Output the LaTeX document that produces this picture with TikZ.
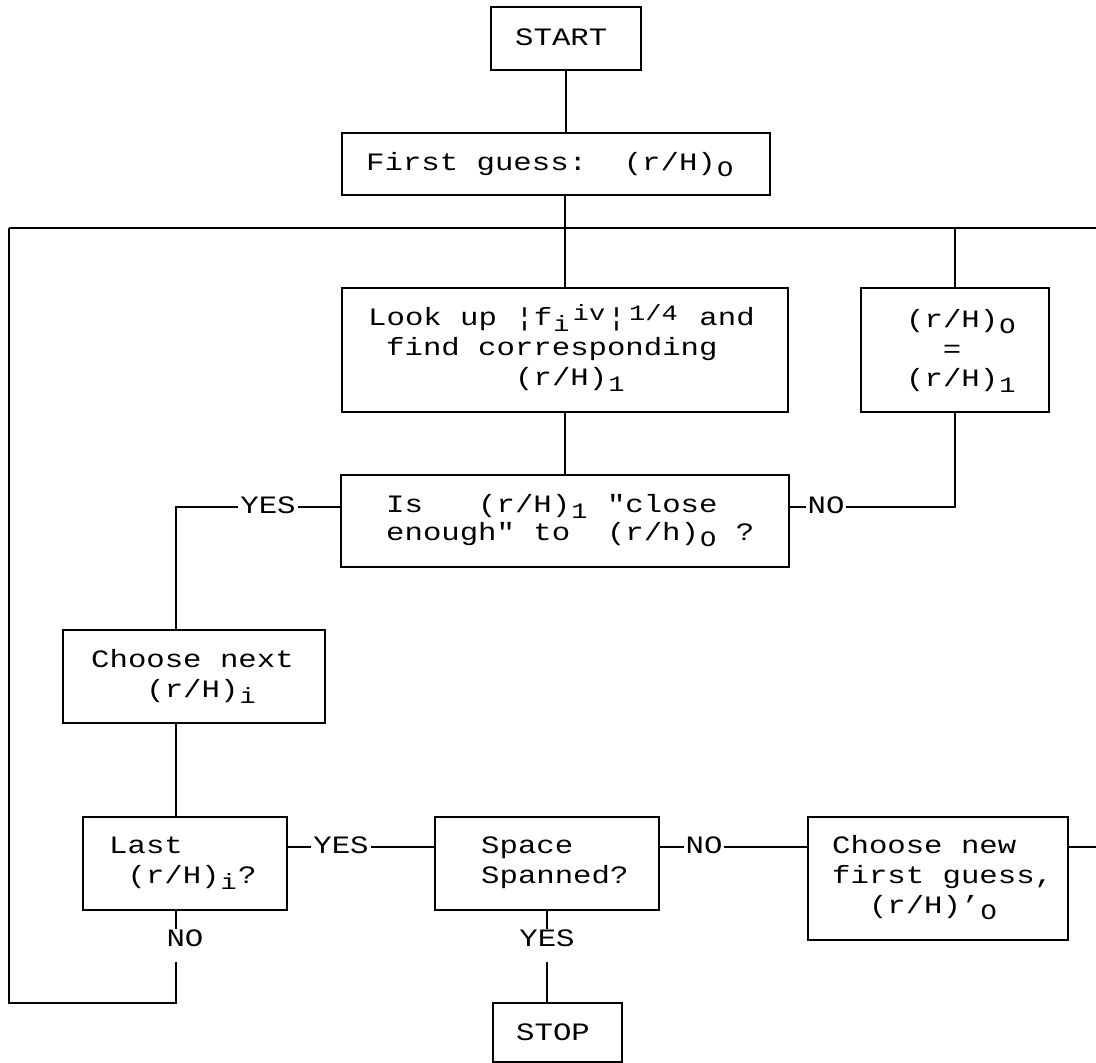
\documentclass[tikz,border=0pt]{standalone}
\usepackage{fontspec}
\newfontfamily\mfont[FakeStretch=1.227,Ligatures=TeXOff]{Liberation Mono}
\newlength\cellw
\setlength\cellw{18.4pt}
\newcommand\cgap[1]{\hspace*{#1\cellw}}
\newcommand\dnc[2]{\makebox[#1\cellw][c]{\raisebox{-6pt}{\fontsize{22pt}{22pt}\selectfont #2}}}
\newcommand\upc[2]{\makebox[#1\cellw][c]{\raisebox{5pt}{\fontsize{22pt}{22pt}\selectfont #2}}}
\tikzset{
  box/.style={draw, line width=1.5pt, inner sep=0pt},
  txt/.style={anchor=base west, inner sep=0pt, font=\mfont\fontsize{25pt}{28pt}\selectfont},
  lab/.style={fill=white, inner xsep=2pt, inner ysep=3pt, font=\mfont\fontsize{25pt}{28pt}\selectfont},
  conn/.style={line width=1.5pt},
}
\begin{document}
\begin{tikzpicture}[x=1pt,y=-1pt]
\useasboundingbox (0,0) rectangle (1096,1063);
% boxes
\node[box, minimum width=150pt, minimum height=63pt] (start) at (566,38.5) {};
\node[box, minimum width=428pt, minimum height=62pt] (first) at (556,164) {};
\node[box, minimum width=446pt, minimum height=124pt] (look) at (565,350) {};
\node[box, minimum width=188pt, minimum height=124pt] (rbox) at (955,350) {};
\node[box, minimum width=448pt, minimum height=92pt] (isbox) at (565,521) {};
\node[box, minimum width=262pt, minimum height=93pt] (chnext) at (194,676.5) {};
\node[box, minimum width=204pt, minimum height=93pt] (last) at (185,863.5) {};
\node[box, minimum width=224pt, minimum height=93pt] (space) at (547,863.5) {};
\node[box, minimum width=260pt, minimum height=123pt] (chnew) at (938,878.5) {};
\node[box, minimum width=129pt, minimum height=59pt] (stop) at (557.5,1032.5) {};
% texts
\node[txt] (tstart) at (515,45) {START};
\node[txt] (tfirst) at (366,170) {First guess:\cgap{2}(r/H)\dnc{1}{O}};
\node[txt] (tlook1) at (368,325) {Look up ¦f\dnc{1}{i}\upc{2}{iv}¦\upc{3}{1/4} and};
\node[txt] (tlook2) at (386,355) {find corresponding};
\node[txt] (tlook3) at (515,385) {(r/H)\dnc{1}{1}};
\node[txt] (trbox1) at (906,327) {(r/H)\dnc{1}{O}};
\node[txt, anchor=base] (trbox2) at (952,357) {=};
\node[txt] (trbox3) at (906,386) {(r/H)\dnc{1}{1}};
\node[txt] (tis1) at (386,512) {Is\cgap{3}(r/H)\dnc{1}{1} "close};
\node[txt] (tis2) at (386,540) {enough" to\cgap{2}(r/h)\dnc{1}{O} ?};
\node[txt] (tchnext1) at (91,667) {Choose next};
\node[txt] (tchnext2) at (91,697) {\cgap{3}(r/H)\dnc{1}{i}};
\node[txt] (tlast1) at (109,853) {Last};
\node[txt] (tlast2) at (109,883) {\cgap{1}(r/H)\dnc{1}{i}?};
\node[txt] (tspace1) at (481,853) {Space};
\node[txt] (tspace2) at (481,883) {Spanned?};
\node[txt] (tchnew1) at (832,853) {Choose new};
\node[txt] (tchnew2) at (832,883) {first guess,};
\node[txt] (tchnew3) at (832,913) {\cgap{2}(r/H)’\dnc{1}{O}};
\node[txt] (tstop) at (516,1040) {STOP};
% vertical labels
\node[lab, fill=none, inner sep=0pt] (no3) at (185,938) {NO};
\node[lab, fill=none, inner sep=0pt] (yes3) at (547,938) {YES};
% coordinates
\coordinate (tl) at (9,228);
\coordinate (tr) at (1096,228);
\coordinate (col) at (176,0);
\coordinate (bl) at (9,1003);
\coordinate (redge) at (1096,847);
\coordinate (no3b) at ([yshift=-15pt]no3.south);
\coordinate (yes3b) at ([yshift=-15pt]yes3.south);
% connectors
\draw[conn] (start.south) -- (start.south |- first.north);
\draw[conn] (look.north |- first.south) -- (look.north);
\draw[conn] (tl) -- (tr);
\draw[conn] (rbox.north |- tl) -- (rbox.north);
\draw[conn] (look.south) -- (look.south |- isbox.north);
\draw[conn] ([yshift=14pt]isbox.west) -| (chnext.north -| col);
\draw[conn] ([yshift=14pt]isbox.east) -| (rbox.south);
\draw[conn] (chnext.south -| col) -- (last.north -| col);
\draw[conn] ([yshift=16.5pt]last.east) -- ([yshift=16.5pt]last.east -| space.west);
\draw[conn] ([yshift=16.5pt]space.east) -- ([yshift=16.5pt]space.east -| chnew.west);
\draw[conn] (redge -| chnew.east) -- (redge);
\draw[conn] (last.south -| col) -- (no3.north -| col);
\draw[conn] (no3b -| col) -- (bl -| col) -- (bl) -- (tl);
\draw[conn] (space.south) -- (space.south |- yes3.north);
\draw[conn] (space.south |- yes3b) -- (space.south |- stop.north);
% horizontal labels
\node[lab] (yes1) at (268,505) {YES};
\node[lab] (no1) at (826,505) {NO};
\node[lab] (yes2) at (341,845) {YES};
\node[lab] (no2) at (704,845) {NO};
\end{tikzpicture}
\end{document}
